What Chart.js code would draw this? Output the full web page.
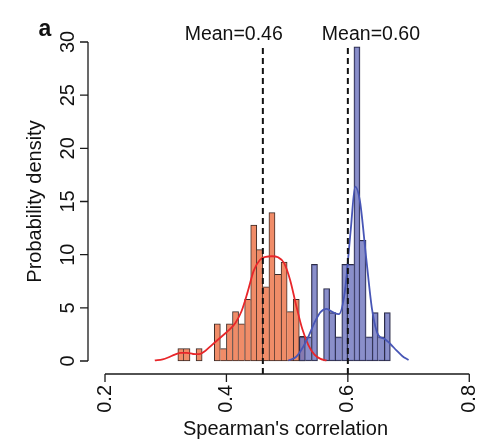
<!DOCTYPE html>
<html><head><meta charset="utf-8">
<script src="https://cdn.jsdelivr.net/npm/chart.js@4/dist/chart.umd.min.js"></script>
<style>html,body{margin:0;padding:0;background:#fff;}canvas{display:block;}</style>
</head><body>
<canvas id="c" width="483" height="441"></canvas>
<script>
// ---------- data ----------
const binWidth = 0.01;
const redBinStarts = [0.32,0.33,0.34,0.35,0.36,0.37,0.38,0.39,0.40,0.41,0.42,0.43,0.44,0.45,0.46,0.47,0.48,0.49,0.50,0.51,0.52];
const redDensity   = [1.16,1.16,null,1.16,null,null,3.49,1.16,3.49,4.65,3.49,5.81,12.79,10.47,6.98,13.95,8.14,9.30,4.65,5.81,2.33];
const blueBinStarts = [0.52,0.53,0.54,0.55,0.56,0.57,0.58,0.59,0.60,0.61,0.62,0.63,0.64,0.65,0.66];
const blueDensity   = [2.27,2.27,9.09,null,6.82,4.55,2.27,9.09,9.09,29.55,11.36,2.27,4.55,2.27,4.55];

const redCurveX = [0.282,0.295,0.305,0.315,0.325,0.335,0.345,0.355,0.365,0.375,0.385,0.395,0.405,0.415,0.425,0.435,0.445,0.455,0.465,0.475,0.485,0.495,0.505,0.515,0.525,0.535,0.545,0.555,0.565];
const redCurveY = [0.05,0.15,0.35,0.6,0.76,0.76,0.66,0.64,0.95,1.45,1.95,2.45,2.95,3.6,4.7,6.5,8.5,9.5,9.8,9.85,9.75,9.2,7.6,5.2,3.0,1.5,0.6,0.2,0.05];
const blueCurveX = [0.502,0.515,0.525,0.535,0.545,0.555,0.565,0.575,0.585,0.595,0.605,0.612,0.620,0.630,0.640,0.650,0.660,0.670,0.680,0.690,0.700];
const blueCurveY = [0.05,0.4,1.2,2.3,3.6,4.6,4.9,4.6,4.4,6.5,12.5,16.4,15.0,9.8,4.8,2.45,2.1,1.6,1.0,0.45,0.1];

const meanValues = [0.46, 0.60];
const meanLabels = ['Mean=0.46', 'Mean=0.60'];
const meanLabelX = [0.412, 0.638];
const meanLabelY = 30.66;
const meanLineTop = 29.5;

const xTicks = [0.2, 0.4, 0.6, 0.8];
const xTickLabels = ['0.2', '0.4', '0.6', '0.8'];
const yTicks = [0, 5, 10, 15, 20, 25, 30];
const yTickLabels = ['0', '5', '10', '15', '20', '25', '30'];
const xTitle = "Spearman's correlation";
const yTitle = 'Probability density';
const panelLabel = 'a';

// ---------- helpers ----------
const FONT = '"Liberation Sans", Arial, Helvetica, sans-serif';
function toBars(starts, vals) {
  return starts.map((s, i) => ({ x: +(s + binWidth / 2).toFixed(4), y: vals[i] }));
}
function toPts(xs, ys) { return xs.map((x, i) => ({ x: x, y: ys[i] })); }
function sideBorders(vals) {
  return ctx => {
    const i = ctx.dataIndex, cur = vals[i];
    const prev = i > 0 ? vals[i - 1] : null;
    const next = i < vals.length - 1 ? vals[i + 1] : null;
    return {
      top: 1, bottom: 1,
      left: (prev == null || prev < cur) ? 1 : 0,
      right: (next == null || next <= cur) ? 1 : 0
    };
  };
}

const xMin = 0.172, xMax = 0.8226;
const yMin = -1.2226, yMax = 31.2226;

const rAxes = {
  id: 'rAxes',
  afterDraw(chart) {
    const ctx = chart.ctx, xs = chart.scales.x, ys = chart.scales.y, ca = chart.chartArea;
    ctx.save();
    ctx.strokeStyle = '#1a1a1a';
    ctx.fillStyle = '#111';
    ctx.lineWidth = 1.3;
    // x axis
    const yAx = ca.bottom;
    ctx.beginPath();
    ctx.moveTo(xs.getPixelForValue(xTicks[0]), yAx);
    ctx.lineTo(xs.getPixelForValue(xTicks[xTicks.length - 1]), yAx);
    xTicks.forEach(v => { const px = xs.getPixelForValue(v); ctx.moveTo(px, yAx); ctx.lineTo(px, yAx + 8); });
    // y axis
    const xAx = ca.left;
    ctx.moveTo(xAx, ys.getPixelForValue(yTicks[0]));
    ctx.lineTo(xAx, ys.getPixelForValue(yTicks[yTicks.length - 1]));
    yTicks.forEach(v => { const py = ys.getPixelForValue(v); ctx.moveTo(xAx, py); ctx.lineTo(xAx - 8, py); });
    ctx.stroke();

    ctx.font = '20px ' + FONT;
    // x tick labels (vertical, reading upward)
    xTicks.forEach((v, i) => {
      const px = xs.getPixelForValue(v);
      ctx.save(); ctx.translate(px, yAx + 11); ctx.rotate(-Math.PI / 2);
      ctx.textAlign = 'right'; ctx.textBaseline = 'middle';
      ctx.fillText(xTickLabels[i], 0, 0); ctx.restore();
    });
    // y tick labels (vertical)
    yTicks.forEach((v, i) => {
      const py = ys.getPixelForValue(v);
      ctx.save(); ctx.translate(68, py); ctx.rotate(-Math.PI / 2);
      ctx.textAlign = 'center'; ctx.textBaseline = 'middle';
      ctx.fillText(yTickLabels[i], 0, 0); ctx.restore();
    });
    // titles
    ctx.textAlign = 'center'; ctx.textBaseline = 'middle';
    ctx.fillText(xTitle, (ca.left + ca.right) / 2, 429);
    ctx.save(); ctx.translate(35, (ca.top + ca.bottom) / 2); ctx.rotate(-Math.PI / 2);
    ctx.fillText(yTitle, 0, 0); ctx.restore();
    // mean labels
    ctx.font = '19.5px ' + FONT;
    meanLabels.forEach((t, i) => {
      ctx.fillText(t, xs.getPixelForValue(meanLabelX[i]), ys.getPixelForValue(meanLabelY));
    });
    // panel label
    ctx.font = 'bold 23px ' + FONT;
    ctx.fillText(panelLabel, 45, 30);
    ctx.restore();
  }
};

const datasets = [
  { type: 'bar', data: toBars(redBinStarts, redDensity), backgroundColor: 'rgb(240,140,104)',
    borderColor: '#3a2a26', borderWidth: sideBorders(redDensity), borderSkipped: false,
    grouped: false, barPercentage: 1, categoryPercentage: 1, order: 6 },
  { type: 'bar', data: toBars(blueBinStarts, blueDensity), backgroundColor: 'rgba(112,118,190,0.82)',
    borderColor: '#2a2a44', borderWidth: sideBorders(blueDensity), borderSkipped: false,
    grouped: false, barPercentage: 1, categoryPercentage: 1, order: 5 },
  { type: 'line', data: toPts(redCurveX, redCurveY), borderColor: '#e8262a', borderWidth: 1.8,
    pointRadius: 0, fill: false, cubicInterpolationMode: 'monotone', order: 4 },
  { type: 'line', data: toPts(blueCurveX, blueCurveY), borderColor: '#4856b6', borderWidth: 1.8,
    pointRadius: 0, fill: false, cubicInterpolationMode: 'monotone', order: 3 }
];
meanValues.forEach((m, i) => {
  datasets.push({ type: 'line', data: [{ x: m, y: yMin }, { x: m, y: meanLineTop }],
    borderColor: '#111', borderWidth: 2, borderDash: [6, 4], pointRadius: 0, tension: 0, fill: false, order: 1 });
});

new Chart(document.getElementById('c'), {
  type: 'bar',
  data: { datasets: datasets },
  options: {
    responsive: false, animation: false, devicePixelRatio: 1,
    layout: { padding: { left: 88, right: 0, top: 29, bottom: 67 } },
    plugins: { legend: { display: false }, tooltip: { enabled: false } },
    scales: {
      x: { type: 'linear', min: xMin, max: xMax, offset: false, display: false },
      y: { type: 'linear', min: yMin, max: yMax, display: false }
    }
  },
  plugins: [rAxes]
});
</script>
</body></html>
